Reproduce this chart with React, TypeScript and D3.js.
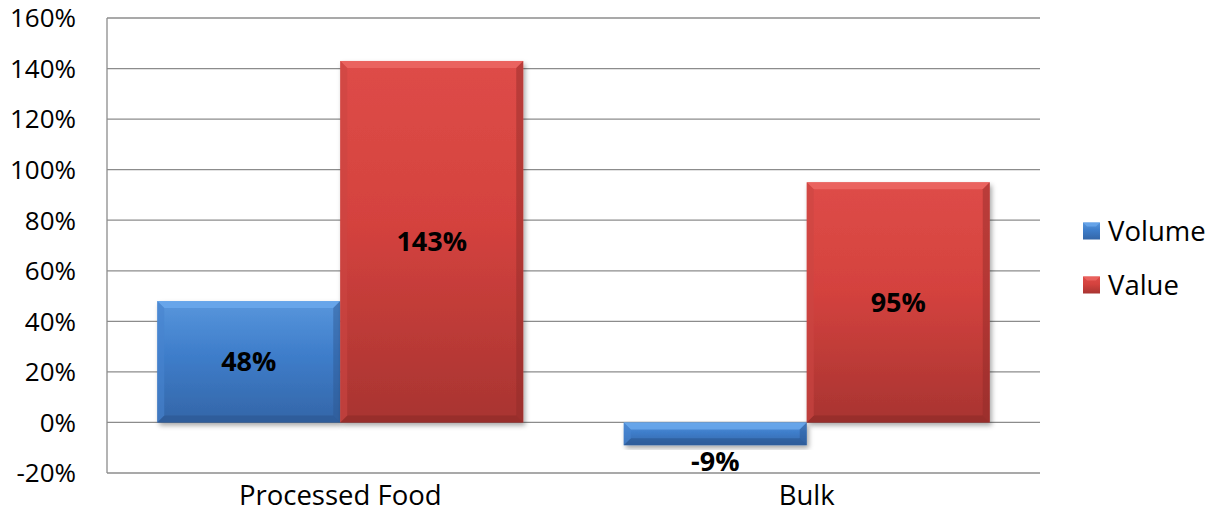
import React from "react";
import * as d3 from "d3";

const categories = ["Processed Food", "Bulk"];
const seriesNames = ["Volume", "Value"];
const volumeValues = [0.48, -0.09];
const valueValues = [1.43, 0.95];
const yTicks = [-0.2, 0, 0.2, 0.4, 0.6, 0.8, 1.0, 1.2, 1.4, 1.6];

const W = 1215;
const H = 512;
const M = { left: 107, right: 1040, top: 18, bottom: 473 };
const FONT = "'Open Sans', 'Liberation Sans', sans-serif";

const palettes: Record<string, { top: string; mid: string; bot: string; light: string; dark: string; side: string }> = {
  Volume: { top: "#5896dc", mid: "#3e7dca", bot: "#3466a8", light: "#6aa8ec", dark: "#2c5791", side: "#4784cf" },
  Value: { top: "#de4c48", mid: "#d4423e", bot: "#a83431", light: "#ec6763", dark: "#8e2a27", side: "#cc4642" },
};

const fmt = (v: number) => `${Math.round(v * 100)}%`;

export default function App() {
  const y = d3.scaleLinear().domain([-0.2, 1.6]).range([M.bottom, M.top]);
  const x0 = d3.scaleBand<string>().domain(categories).range([M.left, M.right]).padding(0);
  const x1 = d3
    .scaleBand<string>()
    .domain(seriesNames)
    .range([0, x0.bandwidth()])
    .paddingInner(0)
    .paddingOuter(0.2746);
  const seriesData: Record<string, number[]> = { Volume: volumeValues, Value: valueValues };

  const bars: { s: string; c: string; v: number; x: number; w: number; y0: number; y1: number }[] = [];
  categories.forEach((c, i) => {
    seriesNames.forEach((s) => {
      const v = seriesData[s][i];
      const xx = (x0(c) as number) + (x1(s) as number);
      bars.push({ s, c, v, x: xx, w: x1.bandwidth(), y0: Math.min(y(v), y(0)), y1: Math.max(y(v), y(0)) });
    });
  });

  const b = 7;

  return (
    <svg width={W} height={H} style={{ display: "block", position: "absolute", left: 0, top: 0 }} fontFamily={FONT}>
      <defs>
        {seriesNames.map((s) => (
          <linearGradient key={s} id={`g-${s}`} x1="0" y1="0" x2="0" y2="1">
            <stop offset="0%" stopColor={palettes[s].top} />
            <stop offset="45%" stopColor={palettes[s].mid} />
            <stop offset="100%" stopColor={palettes[s].bot} />
          </linearGradient>
        ))}
        <filter id="shadow" x="-10%" y="-10%" width="130%" height="130%">
          <feDropShadow dx="2" dy="3" stdDeviation="2.5" floodColor="#000" floodOpacity="0.35" />
        </filter>
      </defs>
      <rect width={W} height={H} fill="#fff" />
      {yTicks.map((t) => (
        <line key={t} x1={M.left} x2={M.right} y1={y(t)} y2={y(t)} stroke="#8c8c8c" strokeWidth={1.3} />
      ))}
      <line x1={M.left} x2={M.left} y1={M.top} y2={M.bottom} stroke="#8c8c8c" strokeWidth={1.3} />
      {yTicks.map((t) => (
        <text key={t} x={76} y={y(t)} dy="0.36em" textAnchor="end" fontSize={26} fill="#000">
          {fmt(t)}
        </text>
      ))}
      {categories.map((c) => (
        <text key={c} x={(x0(c) as number) + x0.bandwidth() / 2} y={495} dy="0.36em" textAnchor="middle" fontSize={27.5} fill="#000">
          {c}
        </text>
      ))}
      {bars.map((d, i) => {
        const p = palettes[d.s];
        const { x, w, y0, y1 } = d;
        const bb = Math.min(b, (y1 - y0) / 2);
        return (
          <g key={i}>
            <rect x={x} y={y0} width={w} height={y1 - y0} fill={`url(#g-${d.s})`} filter="url(#shadow)" />
            <polygon points={`${x},${y0} ${x + w},${y0} ${x + w - bb},${y0 + bb} ${x + bb},${y0 + bb}`} fill={p.light} opacity={0.85} />
            <polygon points={`${x},${y1} ${x + w},${y1} ${x + w - bb},${y1 - bb} ${x + bb},${y1 - bb}`} fill={p.dark} opacity={0.6} />
            <polygon points={`${x},${y0} ${x + bb},${y0 + bb} ${x + bb},${y1 - bb} ${x},${y1}`} fill={p.side} opacity={0.6} />
            <polygon points={`${x + w},${y0} ${x + w - bb},${y0 + bb} ${x + w - bb},${y1 - bb} ${x + w},${y1}`} fill={p.dark} opacity={0.45} />
          </g>
        );
      })}
      {bars.map((d, i) => {
        const small = d.y1 - d.y0 < 35;
        const ly = small ? (d.v < 0 ? d.y1 + 16 : d.y0 - 16) : (d.y0 + d.y1) / 2;
        return (
          <text key={`l${i}`} x={d.x + d.w / 2} y={ly} dy="0.36em" textAnchor="middle" fontSize={27} fontWeight="bold" fill="#000">
            {fmt(d.v)}
          </text>
        );
      })}
      {seriesNames.map((s, i) => {
        const ly = 231 + i * 54;
        const p = palettes[s];
        return (
          <g key={s}>
            <rect x={1083} y={ly - 8.5} width={17} height={17} fill={`url(#g-${s})`} />
            <polygon points={`${1083},${ly - 8.5} ${1100},${ly - 8.5} ${1096},${ly - 4.5} ${1087},${ly - 4.5}`} fill={p.light} opacity={0.8} />
            <text x={1108} y={ly} dy="0.36em" fontSize={27.5} fill="#000">
              {s}
            </text>
          </g>
        );
      })}
    </svg>
  );
}
